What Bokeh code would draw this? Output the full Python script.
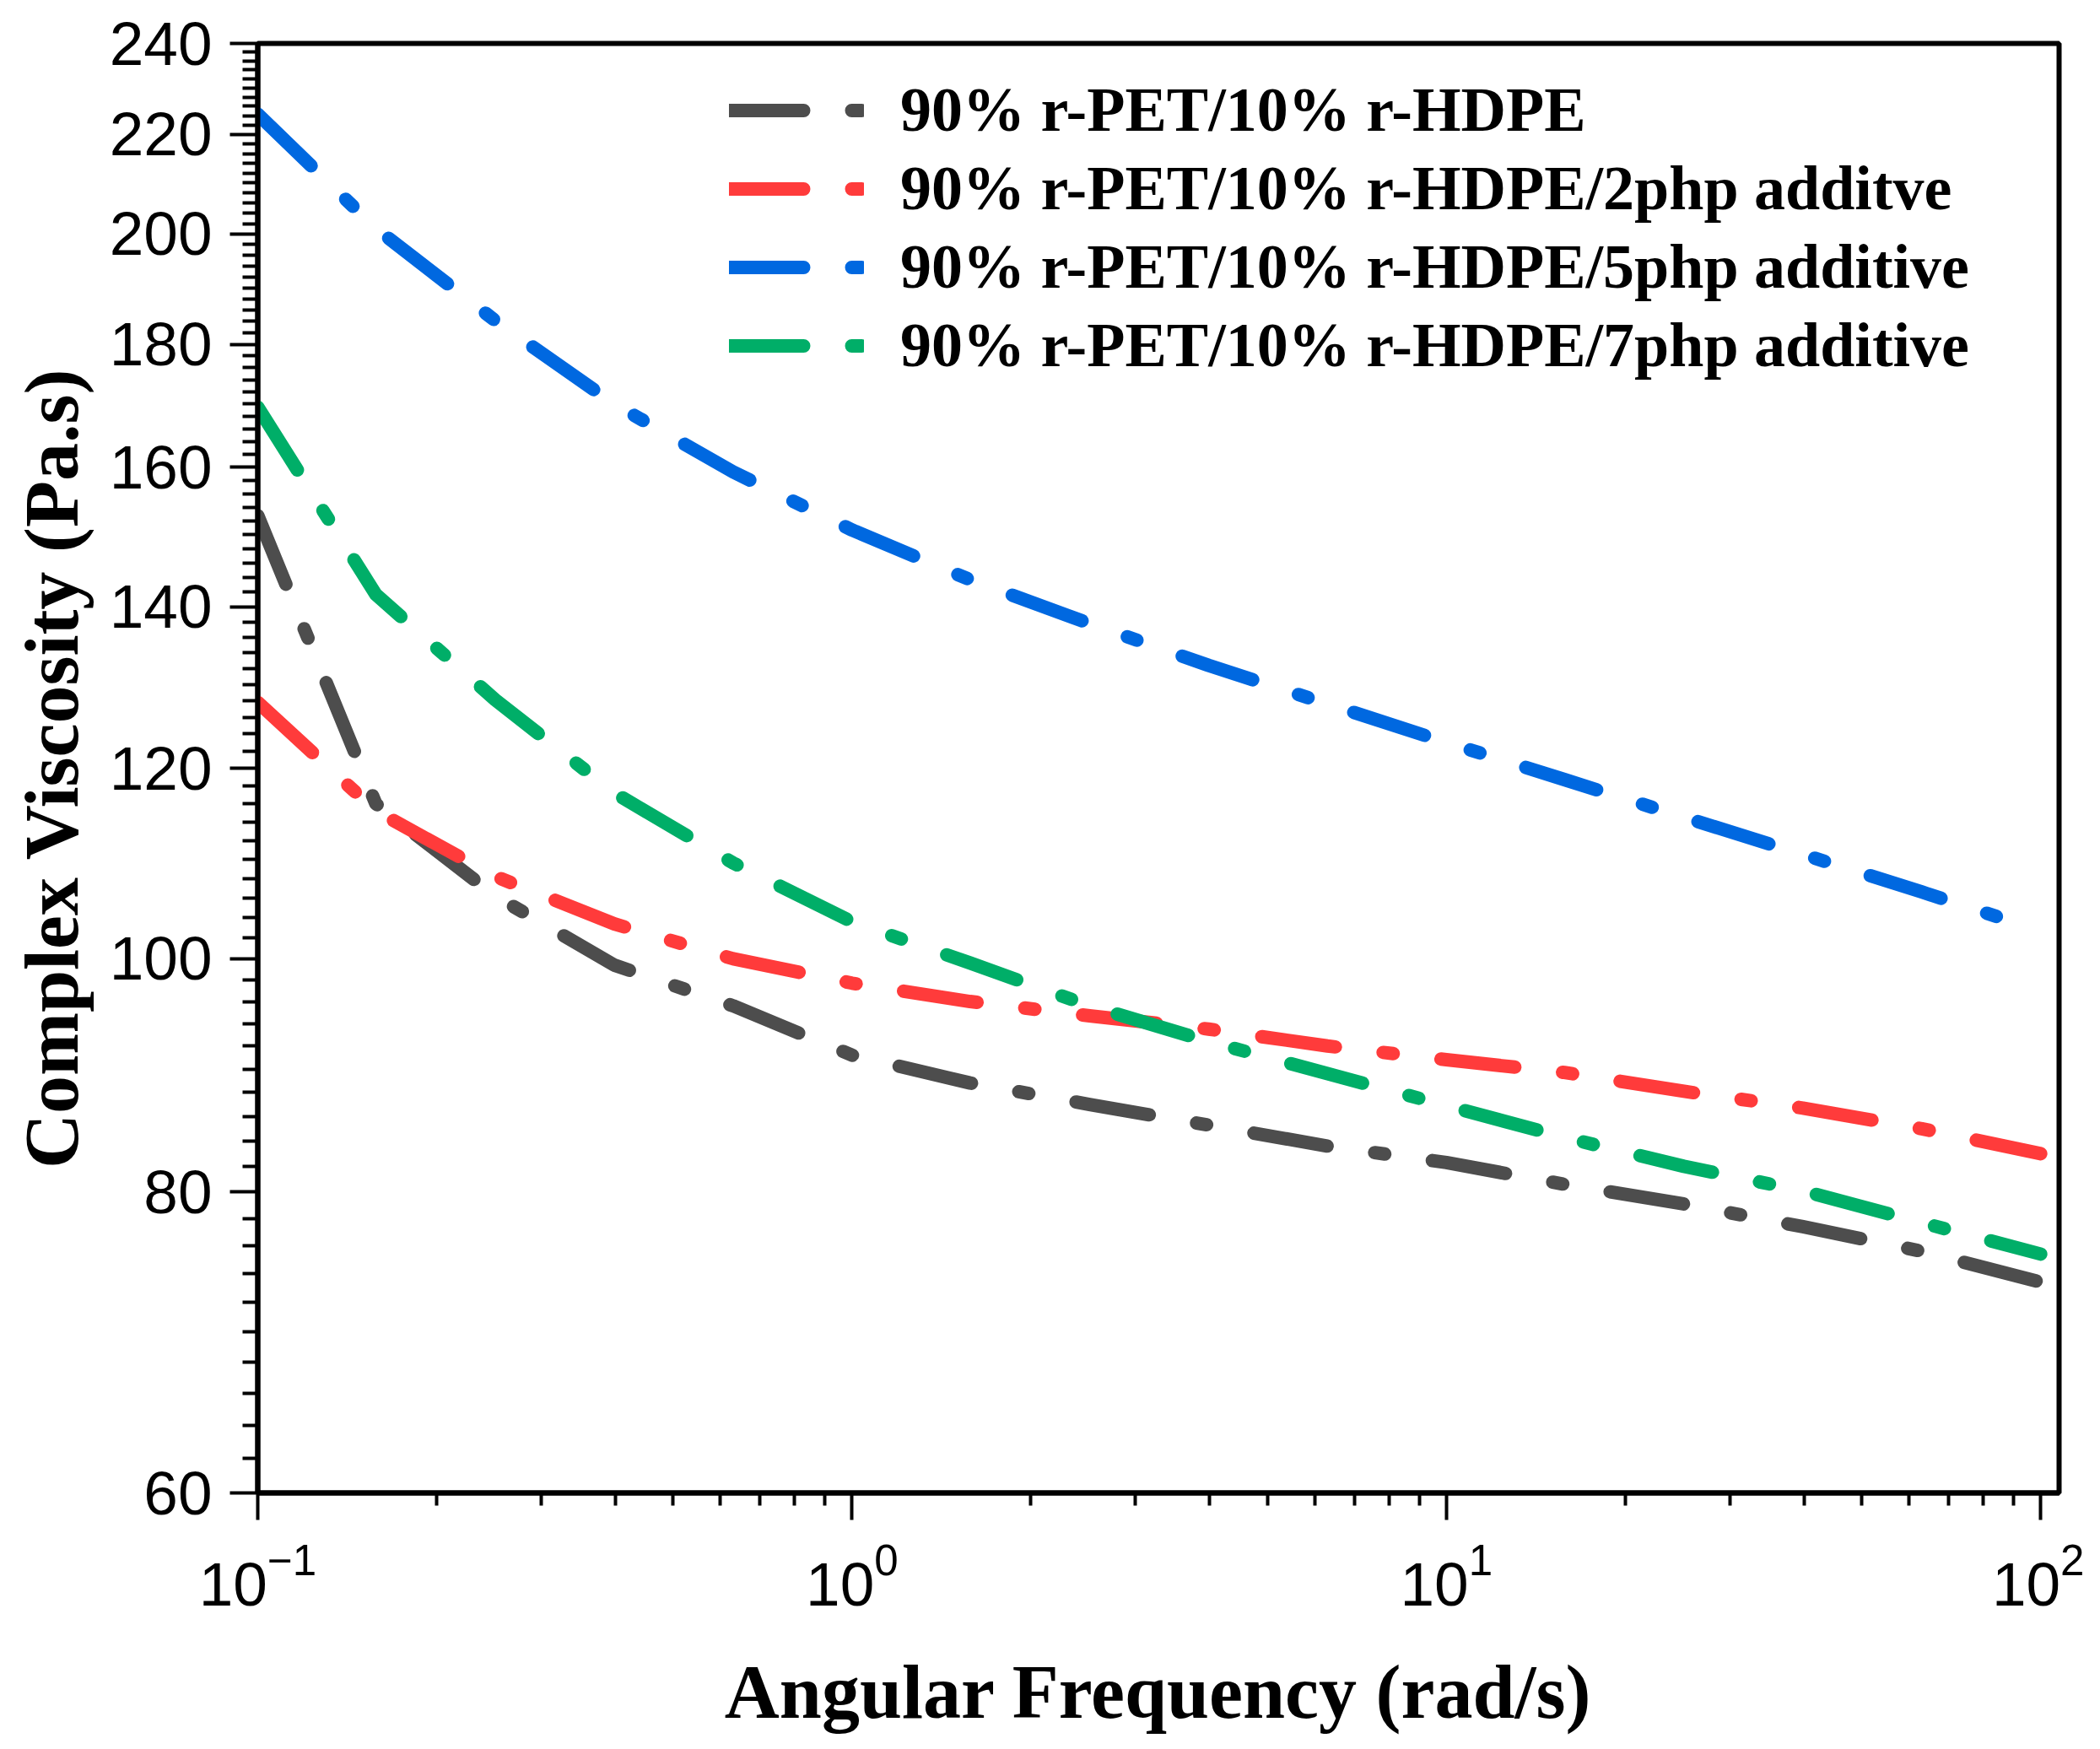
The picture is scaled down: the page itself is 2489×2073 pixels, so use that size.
from bokeh.plotting import figure
from bokeh.models import (FixedTicker, PrintfTickFormatter, Legend, LegendItem,
                          Range1d, LogTickFormatter)
from bokeh.embed import file_html
from bokeh.resources import INLINE

# ---- data ----
freq = [0.1, 0.158, 0.251, 0.398, 0.631, 1.0, 1.58, 2.51, 3.98, 6.31,
        10.0, 15.8, 25.1, 39.8, 63.1, 100.0]
visc_0php = [152.8, 116.0, 106.2, 99.4, 95.6, 91.2, 88.8, 87.0, 85.3, 83.6,
             82.3, 80.6, 79.1, 77.4, 75.6, 73.4]
visc_2php = [127.8, 115.2, 108.2, 103.4, 100.0, 97.7, 96.0, 94.7, 93.5, 92.0,
             90.8, 89.7, 88.1, 86.7, 85.0, 83.0]
visc_5php = [224.3, 201.1, 184.1, 170.0, 159.3, 150.7, 143.7, 137.8, 132.4, 127.6,
             123.0, 118.7, 114.5, 110.5, 106.6, 102.7]
visc_7php = [169.5, 141.7, 128.1, 117.2, 109.6, 103.6, 99.6, 95.6, 92.4, 89.6,
             86.9, 84.3, 82.0, 80.1, 77.7, 75.4]

labels = ["90% r-PET/10% r-HDPE",
          "90% r-PET/10% r-HDPE/2php additve",
          "90% r-PET/10% r-HDPE/5php additive",
          "90% r-PET/10% r-HDPE/7php additive"]
series = [visc_0php, visc_2php, visc_5php, visc_7php]
colors = ["#4d4d4d", "#ff3b3b", "#0068e0", "#00ae68"]

y_major = [60, 80, 100, 120, 140, 160, 180, 200, 220, 240]
y_minor = [v for v in range(62, 240, 2) if v not in y_major]
x_major = [0.1, 1, 10, 100]
x_minor = [m * d for d in (0.1, 1, 10) for m in range(2, 10)]

p = figure(width=2470, height=2057,
           x_axis_type="log", y_axis_type="log",
           x_range=Range1d(0.1, 107.4), y_range=Range1d(60, 240),
           output_backend="svg", toolbar_location=None,
           min_border_left=305, min_border_right=30,
           min_border_top=51, min_border_bottom=280)

p.grid.visible = False
p.outline_line_color = "black"
p.outline_line_width = 6
p.outline_line_alpha = 1.0
p.background_fill_color = "white"
p.border_fill_color = "white"

renderers = []
for vals, col in zip(series, colors):
    r = p.line(freq, vals, line_color=col, line_width=16,
               line_dash="88 57 12 57", line_cap="round", line_join="round")
    renderers.append(r)

# axes
for ax in (p.xaxis[0], p.yaxis[0]):
    ax.axis_line_width = 6
    ax.axis_line_color = "black"
    ax.major_tick_line_width = 4
    ax.minor_tick_line_width = 4
    ax.major_tick_line_color = "black"
    ax.minor_tick_line_color = "black"
    ax.major_tick_in = 0
    ax.minor_tick_in = 0
    ax.major_label_text_font = "Liberation Sans"
    ax.major_label_text_font_size = "73px"
    ax.major_label_text_color = "black"
    ax.axis_label_text_font = "Liberation Serif"
    ax.axis_label_text_font_style = "bold"
    ax.axis_label_text_font_size = "90px"
    ax.axis_label_text_color = "black"

p.xaxis.ticker = FixedTicker(ticks=x_major, minor_ticks=x_minor)
p.xaxis.formatter = LogTickFormatter()
p.xaxis.major_tick_out = 32
p.xaxis.minor_tick_out = 15
p.xaxis.major_label_standoff = 27
p.xaxis.axis_label = "Angular Frequency (rad/s)"
p.xaxis.axis_label_standoff = 50

p.yaxis.ticker = FixedTicker(ticks=y_major, minor_ticks=y_minor)
p.yaxis.formatter = PrintfTickFormatter(format="%d")
p.yaxis.major_tick_out = 33
p.yaxis.minor_tick_out = 18
p.yaxis.major_label_standoff = 21
p.yaxis.axis_label = "Complex Viscosity (Pa.s)"
p.yaxis.axis_label_standoff = 16

legend = Legend(items=[LegendItem(label=l, renderers=[r]) for l, r in zip(labels, renderers)],
                location=(559, 1313),
                label_text_font="Liberation Serif", label_text_font_style="bold",
                label_text_font_size="74px", label_text_color="black",
                glyph_width=160, glyph_height=93, label_height=93,
                label_standoff=43, spacing=0, padding=0, margin=0,
                border_line_alpha=0, background_fill_alpha=0)
p.add_layout(legend)

open("out.html", "w").write(file_html(p, INLINE))
